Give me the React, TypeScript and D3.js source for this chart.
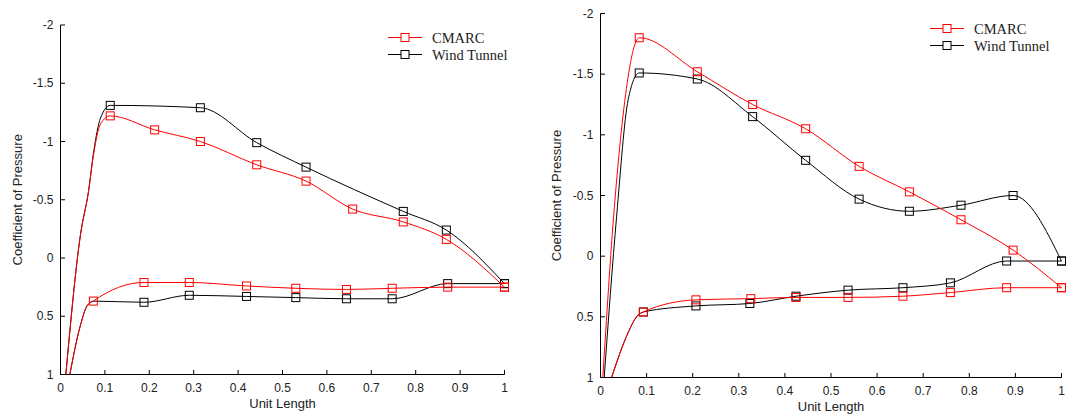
import React from "react";
import * as d3 from "d3";

// Axis ticks shared by both panels
const xTicks = [0, 0.1, 0.2, 0.3, 0.4, 0.5, 0.6, 0.7, 0.8, 0.9, 1];
const xTickLabels = ["0", "0.1", "0.2", "0.3", "0.4", "0.5", "0.6", "0.7", "0.8", "0.9", "1"];
const yTicks = [-2, -1.5, -1, -0.5, 0, 0.5, 1];
const yTickLabels = ["-2", "-1.5", "-1", "-0.5", "0", "0.5", "1"];

const seriesNames = ["CMARC", "Wind Tunnel"];
const seriesColors = ["#ff0000", "#000000"];

// ---- Case A (left panel) ----
// leading-edge run (no markers) followed by the measured stations
const aCmarcNoseUpperX = [0.012, 0.045, 0.063, 0.075, 0.09];
const aCmarcNoseUpperCp = [1, -0.2, -0.57, -0.9, -1.15];
const aCmarcUpperX = [0.112, 0.212, 0.315, 0.442, 0.553, 0.658, 0.772, 0.869, 1.0];
const aCmarcUpperCp = [-1.22, -1.1, -1.0, -0.8, -0.66, -0.42, -0.31, -0.16, 0.25];
const aCmarcNoseLowerX = [0.021, 0.044, 0.06];
const aCmarcNoseLowerCp = [1, 0.59, 0.41];
const aCmarcLowerX = [0.074, 0.188, 0.29, 0.419, 0.53, 0.644, 0.747, 0.872, 1.0];
const aCmarcLowerCp = [0.37, 0.21, 0.21, 0.24, 0.26, 0.27, 0.26, 0.25, 0.25];

const aTunnelNoseUpperX = [0.012, 0.045, 0.063, 0.075, 0.09];
const aTunnelNoseUpperCp = [1, -0.2, -0.57, -0.92, -1.2];
const aTunnelUpperX = [0.112, 0.315, 0.442, 0.553, 0.772, 0.869, 1.0];
const aTunnelUpperCp = [-1.31, -1.29, -0.99, -0.78, -0.4, -0.24, 0.22];
const aTunnelNoseLowerX = [0.021, 0.044, 0.06, 0.074];
const aTunnelNoseLowerCp = [1, 0.59, 0.41, 0.37];
const aTunnelLowerX = [0.188, 0.29, 0.419, 0.53, 0.644, 0.747, 0.872, 1.0];
const aTunnelLowerCp = [0.38, 0.32, 0.33, 0.34, 0.35, 0.35, 0.22, 0.22];

// ---- Case B (right panel) ----
const bCmarcNoseUpperX = [0.005, 0.03, 0.06, 0.071];
const bCmarcNoseUpperCp = [1, -0.4, -1.48, -1.7];
const bCmarcUpperX = [0.084, 0.21, 0.33, 0.445, 0.561, 0.67, 0.782, 0.895, 1.0];
const bCmarcUpperCp = [-1.8, -1.52, -1.25, -1.05, -0.74, -0.53, -0.3, -0.05, 0.26];
const bCmarcNoseLowerX = [0.024, 0.06, 0.078];
const bCmarcNoseLowerCp = [1, 0.63, 0.5];
const bCmarcLowerX = [0.093, 0.207, 0.326, 0.424, 0.537, 0.656, 0.759, 0.881, 1.0];
const bCmarcLowerCp = [0.46, 0.36, 0.35, 0.34, 0.34, 0.33, 0.3, 0.26, 0.26];

const bTunnelNoseUpperX = [0.008, 0.035, 0.06];
const bTunnelNoseUpperCp = [1, -0.33, -1.29];
const bTunnelUpperX = [0.084, 0.21, 0.33, 0.445, 0.561, 0.67, 0.782, 0.895, 1.0];
const bTunnelUpperCp = [-1.51, -1.46, -1.15, -0.79, -0.47, -0.37, -0.42, -0.5, 0.04];
const bTunnelNoseLowerX = [0.024, 0.06, 0.078];
const bTunnelNoseLowerCp = [1, 0.63, 0.5];
const bTunnelLowerX = [0.093, 0.207, 0.324, 0.424, 0.537, 0.656, 0.759, 0.881, 1.0];
const bTunnelLowerCp = [0.46, 0.41, 0.39, 0.33, 0.28, 0.26, 0.22, 0.04, 0.04];

type Pt = [number, number];
type Surface = { nose: Pt[]; stations: Pt[] };

const zip = (xs: number[], ys: number[]): Pt[] => xs.map((v, i) => [v, ys[i]]);

const panels = [
  {
    frame: { left: 60.5, right: 504.5, top: 25, bottom: 374.5 },
    legend: { x: 388, y: 37.5 },
    yLabelX: 17,
    series: [
      [
        { nose: zip(aCmarcNoseUpperX, aCmarcNoseUpperCp), stations: zip(aCmarcUpperX, aCmarcUpperCp) },
        { nose: zip(aCmarcNoseLowerX, aCmarcNoseLowerCp), stations: zip(aCmarcLowerX, aCmarcLowerCp) },
      ],
      [
        { nose: zip(aTunnelNoseUpperX, aTunnelNoseUpperCp), stations: zip(aTunnelUpperX, aTunnelUpperCp) },
        { nose: zip(aTunnelNoseLowerX, aTunnelNoseLowerCp), stations: zip(aTunnelLowerX, aTunnelLowerCp) },
      ],
    ] as Surface[][],
  },
  {
    frame: { left: 600.5, right: 1061.5, top: 13.5, bottom: 377.5 },
    legend: { x: 930, y: 28.5 },
    yLabelX: 556,
    series: [
      [
        { nose: zip(bCmarcNoseUpperX, bCmarcNoseUpperCp), stations: zip(bCmarcUpperX, bCmarcUpperCp) },
        { nose: zip(bCmarcNoseLowerX, bCmarcNoseLowerCp), stations: zip(bCmarcLowerX, bCmarcLowerCp) },
      ],
      [
        { nose: zip(bTunnelNoseUpperX, bTunnelNoseUpperCp), stations: zip(bTunnelUpperX, bTunnelUpperCp) },
        { nose: zip(bTunnelNoseLowerX, bTunnelNoseLowerCp), stations: zip(bTunnelLowerX, bTunnelLowerCp) },
      ],
    ] as Surface[][],
  },
];

const sans = "'Liberation Sans', Arial, sans-serif";
const serif = "'Liberation Serif', 'Times New Roman', serif";
const MS = 8; // marker side

function Panel({ p }: { p: (typeof panels)[number] }) {
  const { frame, legend, yLabelX, series } = p;
  const x = d3.scaleLinear().domain([0, 1]).range([frame.left, frame.right]);
  const y = d3.scaleLinear().domain([-2, 1]).range([frame.top, frame.bottom]);
  const line = d3
    .line<Pt>()
    .x((d) => x(d[0]))
    .y((d) => y(d[1]))
    .curve(d3.curveMonotoneX);

  // draw wind tunnel first, CMARC on top
  const order = [1, 0];

  return (
    <g>
      {/* axes */}
      <line x1={frame.left} x2={frame.left} y1={frame.top} y2={frame.bottom} stroke="#000" />
      <line x1={frame.left} x2={frame.right} y1={frame.bottom} y2={frame.bottom} stroke="#000" />
      {xTicks.map((t, i) => (
        <g key={"x" + i}>
          <line x1={x(t)} x2={x(t)} y1={frame.bottom} y2={frame.bottom - 4.5} stroke="#000" />
          <text x={x(t)} y={frame.bottom + 17} textAnchor="middle" fontFamily={sans} fontSize={12} fill="#222">
            {xTickLabels[i]}
          </text>
        </g>
      ))}
      {yTicks.map((t, i) => (
        <g key={"y" + i}>
          <line x1={frame.left} x2={frame.left + 4.5} y1={y(t)} y2={y(t)} stroke="#000" />
          <text
            x={frame.left - 7}
            y={y(t)}
            textAnchor="end"
            dominantBaseline="central"
            fontFamily={sans}
            fontSize={12}
            fill="#222"
          >
            {yTickLabels[i]}
          </text>
        </g>
      ))}
      <text
        x={(frame.left + frame.right) / 2}
        y={frame.bottom + 33}
        textAnchor="middle"
        fontFamily={sans}
        fontSize={13}
        fill="#222"
      >
        Unit Length
      </text>
      <text
        transform={`translate(${yLabelX},${(frame.top + frame.bottom) / 2}) rotate(-90)`}
        textAnchor="middle"
        dominantBaseline="central"
        fontFamily={sans}
        fontSize={13}
        fill="#222"
      >
        Coefficient of Pressure
      </text>

      {/* curves and station markers */}
      {order.map((si) => (
        <g key={"s" + si}>
          {series[si].map((s, k) => (
            <g key={k}>
              <path d={line([...s.nose, ...s.stations]) || ""} fill="none" stroke={seriesColors[si]} strokeWidth={1} />
              {s.stations.map((d, j) => (
                <rect
                  key={j}
                  x={x(d[0]) - MS / 2}
                  y={y(d[1]) - MS / 2}
                  width={MS}
                  height={MS}
                  fill="none"
                  stroke={seriesColors[si]}
                  strokeWidth={1}
                />
              ))}
            </g>
          ))}
        </g>
      ))}

      {/* legend */}
      {seriesNames.map((name, i) => {
        const ly = legend.y + i * 17;
        const cx = legend.x + 17;
        return (
          <g key={"l" + i}>
            <line x1={legend.x} x2={cx - MS / 2} y1={ly} y2={ly} stroke={seriesColors[i]} />
            <line x1={cx + MS / 2} x2={legend.x + 34} y1={ly} y2={ly} stroke={seriesColors[i]} />
            <rect x={cx - MS / 2} y={ly - MS / 2} width={MS} height={MS} fill="none" stroke={seriesColors[i]} />
            <text x={legend.x + 44} y={ly + 5} fontFamily={serif} fontSize={14.5} fill="#222">
              {name}
            </text>
          </g>
        );
      })}
    </g>
  );
}

export default function App() {
  return (
    <svg
      width={1066}
      height={417}
      style={{ position: "absolute", left: 0, top: 0, background: "#fff" }}
    >
      <rect x={0} y={0} width={1066} height={417} fill="#fff" />
      {panels.map((p, i) => (
        <Panel key={i} p={p} />
      ))}
    </svg>
  );
}
